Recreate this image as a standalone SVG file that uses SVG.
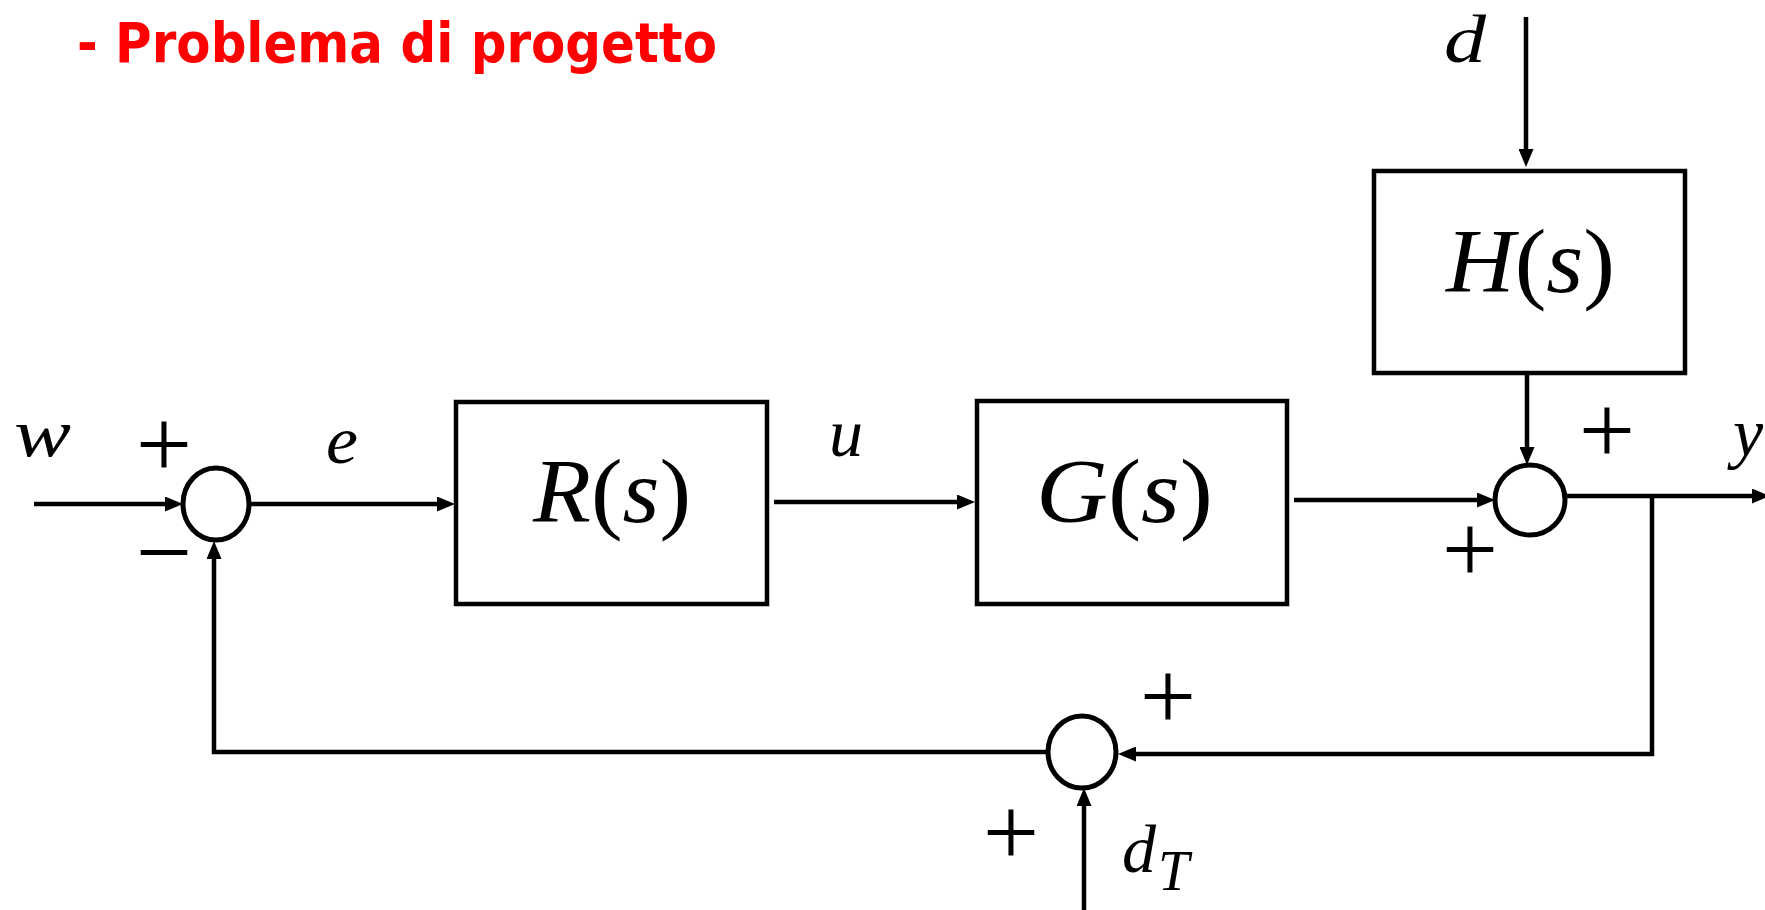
<svg xmlns="http://www.w3.org/2000/svg" width="1765" height="910" viewBox="0 0 1765 910">
<defs>
<marker id="arr" viewBox="0 0 18 15" refX="8" refY="7.5" markerWidth="18" markerHeight="15" markerUnits="userSpaceOnUse" orient="auto">
<path d="M0,0 L18,7.5 L0,15 z" fill="#000"/>
</marker>
</defs>
<style>
.blk{fill:#fff;stroke:#000;stroke-width:4.5}
.sum{fill:#fff;stroke:#000;stroke-width:5}
.ln{fill:none;stroke:#000;stroke-width:4.5}
.ar{marker-end:url(#arr)}
.var{font-family:"Liberation Serif",serif;font-style:italic;font-size:68px;fill:#000}
.tf{font-family:"Liberation Serif",serif;font-size:90px;fill:#000}
.it{font-style:italic}
.sg{font-family:"Liberation Serif",serif;font-size:100px;fill:#000;text-anchor:middle}
.title{font-family:"DejaVu Sans",sans-serif;font-weight:bold;font-size:55px;fill:#ff0000}
</style>
<rect width="1765" height="910" fill="#fff"/>
<text class="title" x="77" y="62" textLength="640" lengthAdjust="spacingAndGlyphs">- Problema di progetto</text>

<g id="connectors">
<line class="ln ar" x1="34" y1="504" x2="173" y2="504"/>
<line class="ln ar" x1="250" y1="504" x2="445" y2="504"/>
<line class="ln ar" x1="774" y1="502" x2="965" y2="502"/>
<line class="ln ar" x1="1294" y1="500" x2="1485" y2="500"/>
<line class="ln ar" x1="1526" y1="17" x2="1526" y2="157"/>
<line class="ln ar" x1="1527" y1="373" x2="1527" y2="455"/>
<line class="ln ar" x1="1565" y1="496" x2="1760" y2="496"/>
<polyline class="ln ar" points="1652,496 1652,754 1128,754"/>
<line class="ln ar" x1="1084" y1="912" x2="1084" y2="798"/>
<polyline class="ln ar" points="1048,752 214,752 214,551"/>
</g>

<g id="sum1"><ellipse class="sum" cx="216" cy="504" rx="33" ry="36"/></g>
<g id="R"><rect class="blk" x="456" y="402" width="311" height="202"/>
<text class="tf" x="533" y="522" textLength="158" lengthAdjust="spacingAndGlyphs"><tspan class="it">R</tspan>(<tspan class="it">s</tspan>)</text></g>
<g id="G"><rect class="blk" x="977" y="401" width="310" height="203"/>
<text class="tf" x="1036" y="522" textLength="177" lengthAdjust="spacingAndGlyphs"><tspan class="it">G</tspan>(<tspan class="it">s</tspan>)</text></g>
<g id="H"><rect class="blk" x="1374" y="171" width="311" height="202"/>
<text class="tf" x="1446" y="292" textLength="169" lengthAdjust="spacingAndGlyphs"><tspan class="it">H</tspan>(<tspan class="it">s</tspan>)</text></g>
<g id="sum2"><ellipse class="sum" cx="1530" cy="500" rx="35" ry="35"/></g>
<g id="sum3"><ellipse class="sum" cx="1082" cy="752" rx="34" ry="36"/></g>

<g id="labels">
<text class="var" x="14" y="456" textLength="57" lengthAdjust="spacingAndGlyphs">w</text>
<text class="var" x="326" y="463" textLength="32" lengthAdjust="spacingAndGlyphs">e</text>
<text class="var" x="846" y="456" font-size="72" text-anchor="middle">u</text>
<text class="var" x="1733" y="456">y</text>
<text class="var" x="1444" y="62" textLength="42" lengthAdjust="spacingAndGlyphs">d</text>
<text class="var" x="1122" y="872">d<tspan font-size="56" dy="18" dx="2">T</tspan></text>
<text class="sg" x="164" y="478">+</text>
<text class="sg" x="164" y="586">−</text>
<text class="sg" x="1607" y="464">+</text>
<text class="sg" x="1470" y="583">+</text>
<text class="sg" x="1168" y="730">+</text>
<text class="sg" x="1011" y="866">+</text>
</g>
</svg>
